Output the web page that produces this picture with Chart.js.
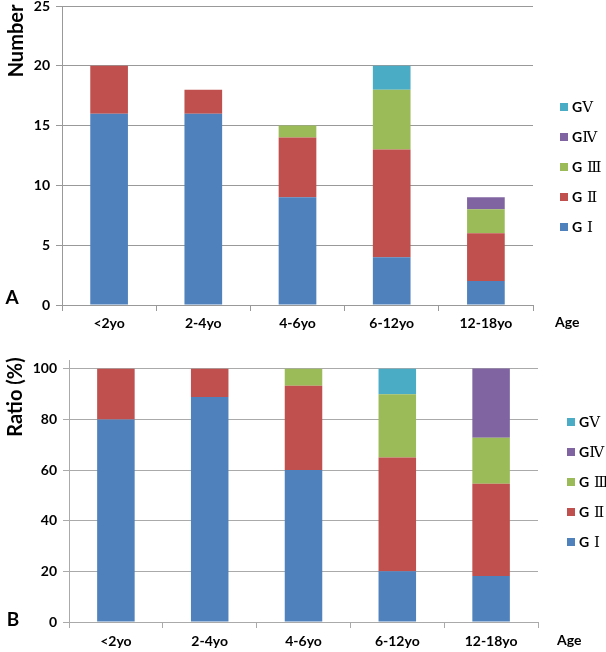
<!DOCTYPE html>
<html>
<head>
<meta charset="utf-8">
<script src="https://cdn.jsdelivr.net/npm/chart.js@4.4.1/dist/chart.umd.min.js"></script>
<style>
  body { margin: 0; background: #fff; }
  .wrap { position: absolute; left: 0; width: 606px; }
</style>
</head>
<body>
<div class="wrap" style="top:0;height:340px"><canvas id="chartA" width="606" height="340"></canvas></div>
<div class="wrap" style="top:326px;height:326px"><canvas id="chartB" width="606" height="326"></canvas></div>
<script>
// categories
const ageGroups = ['<2yo', '2-4yo', '4-6yo', '6-12yo', '12-18yo'];
const gradeNames = ['G Ⅰ', 'G Ⅱ', 'G Ⅲ', 'GⅣ', 'GⅤ'];

// panel A - number of patients
const numG1 = [16, 16, 9, 4, 2];
const numG2 = [4, 2, 5, 9, 4];
const numG3 = [0, 0, 1, 5, 2];
const numG4 = [0, 0, 0, 0, 1];
const numG5 = [0, 0, 0, 2, 0];
const numTicks = [0, 5, 10, 15, 20, 25];

// panel B - ratio (%)
const pctG1 = [80, 88.9, 60, 20, 18.2];
const pctG2 = [20, 11.1, 33.3, 45, 36.4];
const pctG3 = [0, 0, 6.7, 25, 18.2];
const pctG4 = [0, 0, 0, 0, 27.3];
const pctG5 = [0, 0, 0, 10, 0];
const pctTicks = [0, 20, 40, 60, 80, 100];

const gradeColors = ['#4f81bd', '#c0504d', '#9bbb59', '#8064a2', '#4bacc6'];
const fontFam = "Lato, 'DejaVu Sans', sans-serif";

// draws axis title, panel letter, "Age" and the legend
function extrasPlugin(o) {
  return {
    id: 'extras',
    afterDraw(chart) {
      const c = chart.ctx;
      c.save();
      c.fillStyle = '#000';
      c.font = 'bold 20px ' + fontFam;
      c.textAlign = 'center';
      c.textBaseline = 'middle';
      c.save();
      c.translate(o.titleX, o.titleY);
      c.rotate(-Math.PI / 2);
      c.fillText(o.title, 0, 0);
      c.restore();
      c.font = 'bold 19px ' + fontFam;
      c.fillText(o.letter, o.letterX, o.letterY);
      c.font = 'bold 14px ' + fontFam;
      c.textAlign = 'left';
      c.fillText('Age', o.ageX, o.ageY);

      // legend, top item is the last dataset
      const ds = chart.data.datasets;
      for (let i = ds.length - 1, k = 0; i >= 0; i--, k++) {
        const y = o.legY + k * o.legGap;
        c.fillStyle = ds[i].backgroundColor;
        c.fillRect(o.legX, y - 4, 8, 8);
        c.fillStyle = '#000';
        const lab = ds[i].label;
        c.font = 'bold 14px ' + fontFam;
        c.fillText(lab[0], o.legX + 12, y);
        const w = c.measureText(lab[0]).width;
        c.font = "15px 'DejaVu Serif', 'Noto Sans CJK SC', serif";
        c.fillText(lab.slice(1), o.legX + 12 + w, y + 1);
      }
      c.restore();
    }
  };
}

function makeChart(id, series, o) {
  const datasets = series.map((vals, i) => ({
    label: gradeNames[i],
    data: vals,
    backgroundColor: gradeColors[i],
    categoryPercentage: 1,
    barPercentage: 0.4
  }));
  return new Chart(document.getElementById(id), {
    type: 'bar',
    data: { labels: ageGroups, datasets: datasets },
    options: {
      responsive: false,
      animation: false,
      layout: { padding: { top: o.padTop, right: o.padRight, left: 0, bottom: 0 } },
      plugins: { legend: { display: false }, tooltip: { enabled: false } },
      scales: {
        x: {
          stacked: true,
          afterFit: s => { s.height = o.xHeight; s.paddingLeft = 0; s.paddingRight = 0; },
          grid: { offset: true, drawOnChartArea: false, tickLength: 6, color: o.gridColor },
          border: { color: o.gridColor },
          ticks: { color: '#000', padding: o.xPad, font: { family: fontFam, size: 14, weight: 'bold' } }
        },
        y: {
          stacked: true,
          min: 0,
          max: o.yMax,
          afterFit: s => { s.width = o.yWidth; s.paddingTop = 0; s.paddingBottom = 0; },
          afterBuildTicks: s => { s.ticks = o.ticks.map(v => ({ value: v })); },
          grid: { color: o.gridColor, tickLength: 6 },
          border: { color: o.gridColor },
          ticks: { color: '#000', padding: 6, font: { family: fontFam, size: 14, weight: 'bold' } }
        }
      }
    },
    plugins: [extrasPlugin(o)]
  });
}

makeChart('chartA', [numG1, numG2, numG3, numG4, numG5], {
  padTop: 6, padRight: 73, xHeight: 35, yWidth: 62, xPad: 4,
  yMax: 25, ticks: numTicks, gridColor: '#999',
  title: 'Number', titleX: 17, titleY: 41,
  letter: 'A', letterX: 12, letterY: 298,
  ageX: 555, ageY: 322,
  legX: 560, legY: 107, legGap: 30
});

makeChart('chartB', [pctG1, pctG2, pctG3, pctG4, pctG5], {
  padTop: 34, padRight: 68, xHeight: 30, yWidth: 69, xPad: 5,
  yMax: 103.5, ticks: pctTicks, gridColor: '#aaa',
  title: 'Ratio (%)', titleX: 16, titleY: 71,
  letter: 'B', letterX: 13, letterY: 294,
  ageX: 557, ageY: 314,
  legX: 567, legY: 96, legGap: 30
});
</script>
</body>
</html>
